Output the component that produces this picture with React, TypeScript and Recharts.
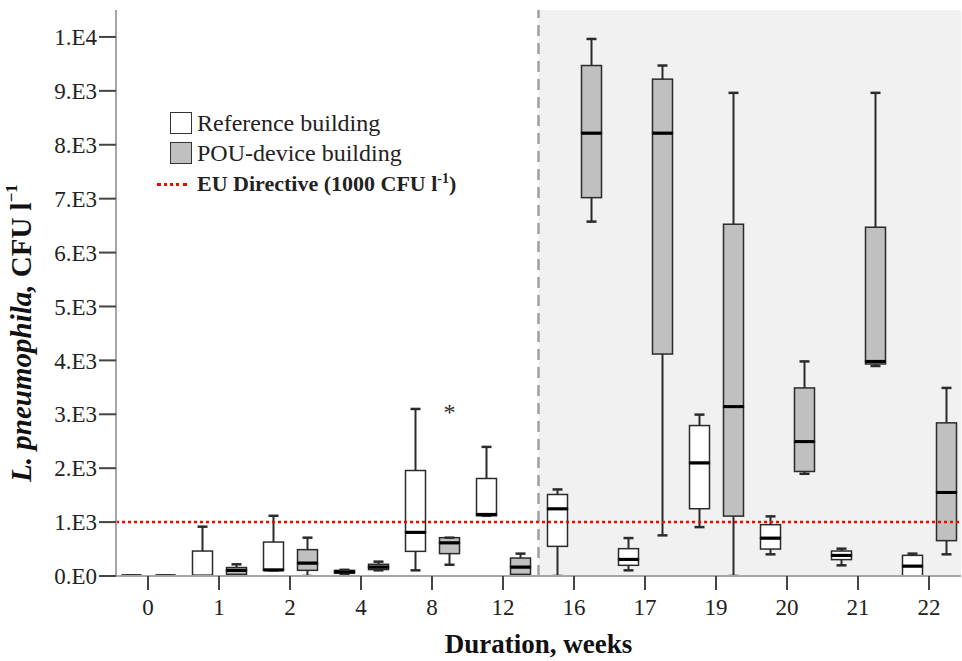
import { ComposedChart, Bar, XAxis, YAxis, ReferenceLine, ReferenceArea, Legend } from 'recharts';

const weeks = ['0', '1', '2', '4', '8', '12', '16', '17', '19', '20', '21', '22'];

// Reference building (white boxes)
const refMin = [0, 0, 105, 40, 105, 1117, 0, 105, 907, 402, 198, 0];
const refQ1 = [0, 0, 105, 50, 457, 1117, 550, 198, 1248, 500, 304, 0];
const refMedian = [0, 0, 115, 80, 811, 1143, 1248, 309, 2100, 704, 383, 185];
const refQ3 = [0, 463, 630, 105, 1957, 1809, 1512, 507, 2791, 952, 463, 383];
const refMax = [0, 915, 1117, 115, 3099, 2395, 1606, 704, 2994, 1106, 507, 415];

// POU-device building (grey boxes)
const pouMin = [0, 0, 0, 105, 209, 0, 6574, 754, 0, 1896, 3896, 402];
const pouQ1 = [0, 31, 105, 119, 415, 31, 7019, 4118, 1111, 1939, 3933, 656];
const pouMedian = [0, 105, 241, 167, 617, 167, 8217, 8217, 3143, 2494, 3981, 1550];
const pouQ3 = [0, 157, 489, 217, 711, 333, 9470, 9217, 6526, 3489, 6470, 2841];
const pouMax = [0, 217, 711, 266, 711, 415, 9963, 9470, 8963, 3981, 8963, 3489];
const pouOutlier = [null, null, null, null, 3087, null, null, null, null, null, null, null];

const yTicks = [0, 1000, 2000, 3000, 4000, 5000, 6000, 7000, 8000, 9000, 10000];
const yTickLabels = ['0.E0', '1.E3', '2.E3', '3.E3', '4.E3', '5.E3', '6.E3', '7.E3', '8.E3', '9.E3', '1.E4'];

const EU_LIMIT = 1000;

const rows = weeks.map((week, i) => ({
    week,
    refBase: refMin[i],
    refLowWhisker: refQ1[i] - refMin[i],
    refLowBox: refMedian[i] - refQ1[i],
    refHighBox: refQ3[i] - refMedian[i],
    refHighWhisker: refMax[i] - refQ3[i],
    pouBase: pouMin[i],
    pouLowWhisker: pouQ1[i] - pouMin[i],
    pouLowBox: pouMedian[i] - pouQ1[i],
    pouHighBox: pouQ3[i] - pouMedian[i],
    pouHighWhisker: pouMax[i] - pouQ3[i],
    pouGap: pouOutlier[i] != null ? (pouOutlier[i] as number) - pouMax[i] : 0,
    outlier: pouOutlier[i],
}));

const SERIF = '"Liberation Serif", "Times New Roman", serif';
const INK = '#2b2b2b';
const GREY_BOX = '#c0c0c0';

function span(p: any) {
    const top = Math.min(p.y, p.y + p.height);
    const bottom = Math.max(p.y, p.y + p.height);
    return { cx: p.x + p.width / 2, top, bottom };
}

const LowWhisker = (p: any) => {
    const { cx, top, bottom } = span(p);
    return (
        <g>
            <line x1={cx} x2={cx} y1={top} y2={bottom} stroke={INK} strokeWidth={2} />
            <line x1={cx - 5} x2={cx + 5} y1={bottom} y2={bottom} stroke={INK} strokeWidth={2.5} />
        </g>
    );
};

const HighWhisker = (p: any) => {
    const { cx, top, bottom } = span(p);
    return (
        <g>
            <line x1={cx} x2={cx} y1={top} y2={bottom} stroke={INK} strokeWidth={2} />
            <line x1={cx - 5} x2={cx + 5} y1={top} y2={top} stroke={INK} strokeWidth={2.5} />
        </g>
    );
};

// lower half of the box: median is its upper edge; upper half: median is its lower edge
const makeBox = (fill: string, medianAtTop: boolean) => (p: any) => {
    const { top, bottom } = span(p);
    const h = bottom - top;
    const my = medianAtTop ? top : bottom;
    return (
        <g>
            {h > 0 && (
                <rect x={p.x} y={top} width={p.width} height={h} fill={fill} stroke={INK} strokeWidth={1.5} />
            )}
            <line x1={p.x} x2={p.x + p.width} y1={my} y2={my} stroke="#000" strokeWidth={3} />
        </g>
    );
};

const OutlierMark = (p: any) => {
    if (p.payload == null || p.payload.outlier == null) return <g />;
    const { cx, top } = span(p);
    return (
        <text x={cx} y={top + 10} textAnchor="middle" fontFamily={SERIF} fontSize={24} fill={INK}>
            *
        </text>
    );
};

const LegendBox = ({ fill }: { fill: string }) => (
    <div style={{ width: 20, height: 20, background: fill, border: '1.5px solid #333', marginRight: 5 }} />
);

const LegendContent = () => (
    <div style={{ fontFamily: SERIF, color: '#222' }}>
        <div style={{ display: 'flex', alignItems: 'center', height: 30, paddingLeft: 13, fontSize: 24 }}>
            <LegendBox fill="#fff" />
            <span>Reference building</span>
        </div>
        <div style={{ display: 'flex', alignItems: 'center', height: 30, paddingLeft: 13, fontSize: 24 }}>
            <LegendBox fill={GREY_BOX} />
            <span>POU-device building</span>
        </div>
        <div style={{ display: 'flex', alignItems: 'center', height: 32, fontSize: 22, fontWeight: 'bold' }}>
            <div style={{ width: 30, borderTop: '3px dotted #ff0000', marginRight: 10 }} />
            <span>
                EU Directive (1000 CFU l<sup style={{ fontSize: 14 }}>-1</sup>)
            </span>
        </div>
    </div>
);

const YTitle = ({ viewBox }: any) => {
    const x = (viewBox?.x ?? 0) + 24;
    const y = 333;
    return (
        <text
            x={x}
            y={y}
            transform={`rotate(-90, ${x}, ${y})`}
            textAnchor="middle"
            dominantBaseline="middle"
            fontFamily={SERIF}
            fontSize={29}
            fontWeight="bold"
            fill="#111"
        >
            <tspan fontStyle="italic">L. pneumophila,</tspan>
            <tspan> CFU l</tspan>
            <tspan fontSize={17} dy={-11}>−1</tspan>
        </text>
    );
};

const XTitle = ({ viewBox }: any) => {
    const cx = viewBox.x + viewBox.width / 2;
    return (
        <text x={cx} y={viewBox.y + 77} textAnchor="middle" fontFamily={SERIF} fontSize={27} fontWeight="bold" fill="#111">
            Duration, weeks
        </text>
    );
};

export default function App() {
    const tickStyle = { fontFamily: SERIF, fontSize: 23, fill: '#222' };
    return (
        <div style={{ position: 'absolute', left: 0, top: 0, background: '#fff' }}>
            <ComposedChart
                width={962}
                height={661}
                data={rows}
                margin={{ top: 10, right: 1, bottom: 0, left: 0 }}
                barSize={20}
                barGap={14}
            >
                <ReferenceArea x1="16" x2="22" fill="#f1f1f1" fillOpacity={1} stroke="none" ifOverflow="hidden" />
                <ReferenceLine x="12" position="end" stroke="#a0a0a0" strokeWidth={2.5} strokeDasharray="11 7" />
                <XAxis
                    dataKey="week"
                    height={85}
                    padding={{ left: -3.5, right: -3.5 }}
                    tickSize={14}
                    tickMargin={9}
                    tick={tickStyle}
                    axisLine={{ stroke: '#a6a6a6', strokeWidth: 2 }}
                    tickLine={{ stroke: '#444', strokeWidth: 2 }}
                    interval={0}
                    label={<XTitle />}
                />
                <XAxis xAxisId="frame" dataKey="week" orientation="top" height={0} tick={false} tickLine={false} axisLine={{ stroke: '#cccccc', strokeWidth: 2 }} />
                <YAxis
                    width={116}
                    domain={[0, 10500]}
                    allowDataOverflow
                    ticks={yTicks}
                    tickFormatter={(v: number) => yTickLabels[yTicks.indexOf(v)]}
                    tickSize={17}
                    tickMargin={2}
                    tick={tickStyle}
                    axisLine={{ stroke: '#a6a6a6', strokeWidth: 2 }}
                    tickLine={{ stroke: '#444', strokeWidth: 2 }}
                    label={<YTitle />}
                />
                <YAxis yAxisId="frame" orientation="right" width={0} domain={[0, 1]} tick={false} tickLine={false} axisLine={{ stroke: '#cccccc', strokeWidth: 2 }} />

                <Bar dataKey="refBase" stackId="ref" fill="none" isAnimationActive={false} legendType="none" />
                <Bar dataKey="refLowWhisker" stackId="ref" shape={LowWhisker} isAnimationActive={false} legendType="none" />
                <Bar dataKey="refLowBox" stackId="ref" shape={makeBox('#fff', true)} isAnimationActive={false} legendType="none" />
                <Bar dataKey="refHighBox" stackId="ref" shape={makeBox('#fff', false)} isAnimationActive={false} legendType="none" />
                <Bar dataKey="refHighWhisker" stackId="ref" shape={HighWhisker} isAnimationActive={false} legendType="none" />

                <Bar dataKey="pouBase" stackId="pou" fill="none" isAnimationActive={false} legendType="none" />
                <Bar dataKey="pouLowWhisker" stackId="pou" shape={LowWhisker} isAnimationActive={false} legendType="none" />
                <Bar dataKey="pouLowBox" stackId="pou" shape={makeBox(GREY_BOX, true)} isAnimationActive={false} legendType="none" />
                <Bar dataKey="pouHighBox" stackId="pou" shape={makeBox(GREY_BOX, false)} isAnimationActive={false} legendType="none" />
                <Bar dataKey="pouHighWhisker" stackId="pou" shape={HighWhisker} isAnimationActive={false} legendType="none" />
                <Bar dataKey="pouGap" stackId="pou" shape={OutlierMark} isAnimationActive={false} legendType="none" />

                <ReferenceLine y={EU_LIMIT} stroke="#ff0000" strokeWidth={2.5} strokeDasharray="3 3" />
                <Legend
                    layout="vertical"
                    align="center"
                    verticalAlign="middle"
                    content={<LegendContent />}
                    wrapperStyle={{ left: 157, top: 108, width: 360 }}
                />
            </ComposedChart>
        </div>
    );
}
